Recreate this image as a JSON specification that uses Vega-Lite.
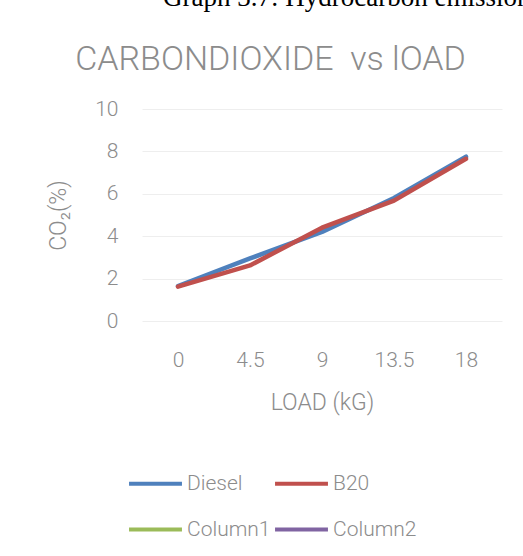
{
  "$schema": "https://vega.github.io/schema/vega-lite/v6.json",
  "autosize": "none",
  "width": 360,
  "height": 212,
  "padding": {"left": 142, "top": 109, "right": 21, "bottom": 235},
  "background": "white",
  "title": {
    "text": "Graph 3.7: Hydrocarbon emission",
    "font": "Liberation Serif",
    "fontSize": 27,
    "fontWeight": "normal",
    "color": "black",
    "anchor": "start",
    "frame": "group",
    "dx": 21,
    "offset": 30
  },
  "data": {
    "values": [
      {"load": "0", "series": "Diesel", "co2": 1.65},
      {"load": "4.5", "series": "Diesel", "co2": 2.95},
      {"load": "9", "series": "Diesel", "co2": 4.2},
      {"load": "13.5", "series": "Diesel", "co2": 5.8},
      {"load": "18", "series": "Diesel", "co2": 7.75},
      {"load": "0", "series": "B20", "co2": 1.62},
      {"load": "4.5", "series": "B20", "co2": 2.62},
      {"load": "9", "series": "B20", "co2": 4.4},
      {"load": "13.5", "series": "B20", "co2": 5.68},
      {"load": "18", "series": "B20", "co2": 7.65}
    ]
  },
  "config": {
    "view": {"stroke": null},
    "font": "Roboto",
    "axis": {
      "labelFont": "Roboto",
      "labelFontWeight": 300,
      "titleFont": "Roboto",
      "titleFontWeight": 300,
      "labelColor": "#8c8c8c",
      "titleColor": "#8c8c8c",
      "domain": false,
      "ticks": false
    }
  },
  "resolve": {"axis": {"x": "independent"}},
  "layer": [
    {
      "transform": [{"filter": "datum.series === 'Diesel'"}],
      "mark": {"type": "line", "strokeWidth": 4.5, "strokeCap": "round", "strokeJoin": "round"},
      "encoding": {
        "x": {
          "field": "load", "type": "ordinal",
          "sort": ["0", "4.5", "9", "13.5", "18"],
          "scale": {"type": "point", "padding": 0.5},
          "axis": {
            "title": "LOAD (kG)",
            "labelAngle": 0,
            "labelFontSize": 21,
            "labelPadding": 28,
            "titleFontSize": 23,
            "titlePadding": 21,
            "grid": false
          }
        },
        "y": {
          "field": "co2", "type": "quantitative",
          "scale": {"domain": [0, 10]},
          "axis": {
            "title": "CO₂(%)",
            "values": [0, 2, 4, 6, 8, 10],
            "labelFontSize": 21,
            "labelPadding": 24,
            "titleFontSize": 23,
            "titlePadding": 24,
            "gridColor": "#eeeeee",
            "gridWidth": 1
          }
        },
        "color": {
          "field": "series", "type": "nominal",
          "scale": {
            "domain": ["Diesel", "B20", "Column1", "Column2"],
            "range": ["#4F81BD", "#C0504D", "#9BBB59", "#8064A2"]
          },
          "legend": {
            "title": null,
            "orient": "none",
            "direction": "horizontal",
            "columns": 2,
            "legendX": -15,
            "legendY": 346,
            "symbolType": "stroke",
            "symbolSize": 2800,
            "symbolStrokeWidth": 4,
            "labelFont": "Roboto",
            "labelFontWeight": 300,
            "labelFontSize": 21,
            "labelColor": "#8c8c8c",
            "labelOffset": 3,
            "columnPadding": -4,
            "rowPadding": 7
          }
        }
      }
    },
    {
      "transform": [{"filter": "datum.series === 'B20'"}],
      "mark": {"type": "line", "strokeWidth": 4.5, "strokeCap": "round", "strokeJoin": "round"},
      "encoding": {
        "x": {
          "field": "load", "type": "ordinal",
          "sort": ["0", "4.5", "9", "13.5", "18"],
          "axis": {
            "orient": "top",
            "title": "CARBONDIOXIDE\u00a0 vs lOAD",
            "titleFontSize": 34,
            "titleX": 128,
            "titlePadding": 33,
            "labels": false,
            "grid": false
          }
        },
        "y": {"field": "co2", "type": "quantitative"},
        "color": {"field": "series", "type": "nominal"}
      }
    }
  ]
}
